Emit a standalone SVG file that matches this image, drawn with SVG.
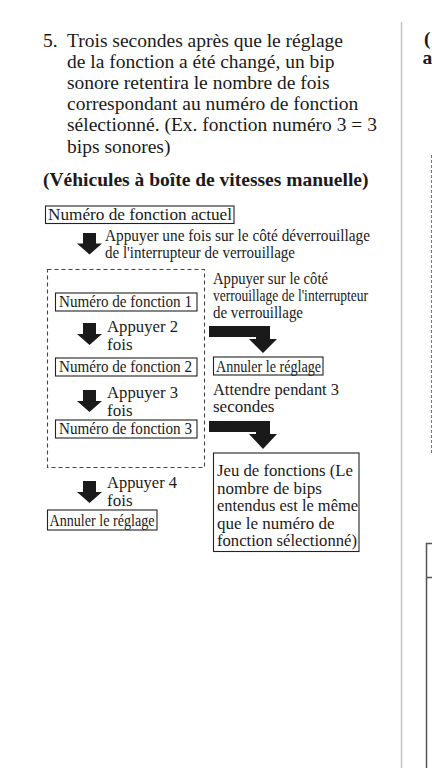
<svg xmlns="http://www.w3.org/2000/svg" width="432" height="768" viewBox="0 0 432 768">
<style>
  text { font-family: "Liberation Serif", "Times New Roman", serif; fill: #1a1a1a; }
  .body { font-size: 19.5px; }
  .head { font-size: 19.5px; font-weight: bold; }
  .lbl { font-size: 17px; }
  .sm { font-size: 16.5px; }
  .bx { font-size: 16px; }
  .box { fill: #fff; stroke: #222; stroke-width: 1.1; }
  .dash { fill: none; stroke: #444; stroke-width: 1.1; stroke-dasharray: 4 3; }
  .arr { fill: #1a1a1a; }
</style>
<rect width="432" height="768" fill="#fff"/>

<g id="intro">
  <text class="body" x="43" y="46.5">5.</text>
  <text class="body" x="67" y="46.5">Trois secondes après que le réglage</text>
  <text class="body" x="67" y="67.7">de la fonction a été changé, un bip</text>
  <text class="body" x="67" y="88.9">sonore retentira le nombre de fois</text>
  <text class="body" x="67" y="110.1">correspondant au numéro de fonction</text>
  <text class="body" x="67" y="131.3">sélectionné. (Ex. fonction numéro 3 = 3</text>
  <text class="body" x="67" y="152.5">bips sonores)</text>
  <text class="head" x="43" y="186">(Véhicules à boîte de vitesses manuelle)</text>
</g>

<g id="right-column">
  <line x1="401.5" y1="22" x2="401.5" y2="768" stroke="#c4c4c4" stroke-width="1.5"/>
  <text class="head" x="424" y="45">(</text>
  <text class="head" x="422.5" y="64">a</text>
  <line x1="431.5" y1="155" x2="431.5" y2="455" stroke="#777" stroke-width="1" stroke-dasharray="3 2"/>
  <path d="M432 543.5 H426.5 V768 M426.5 577.5 H432" fill="none" stroke="#555" stroke-width="1.5"/>
</g>

<g id="connectors">
  <polygon class="arr" points="83,233 96,233 96,243.5 102,243.5 89.5,254.5 77,243.5 83,243.5"/>
  <polygon class="arr" points="83,323 96,323 96,334 102,334 89.5,345 77,334 83,334"/>
  <polygon class="arr" points="83,390 96,390 96,401 102,401 89.5,412 77,401 83,401"/>
  <polygon class="arr" points="83,481 96,481 96,492 102,492 89.5,503 77,492 83,492"/>
  <polygon class="arr" points="209,326 270,326 270,339 277,339 263,353 249,339 256,339 256,337 209,337"/>
  <polygon class="arr" points="209,421 270,421 270,434 277,434 263,449 249,434 256,434 256,432 209,432"/>
</g>

<g id="node-actuel">
  <rect class="box" x="45.5" y="206" width="188.5" height="17.5"/>
  <text class="lbl" x="48" y="220" textLength="184" lengthAdjust="spacingAndGlyphs">Numéro de fonction actuel</text>
</g>

<g id="label-deverrouillage">
  <text class="lbl" x="105" y="241" textLength="265" lengthAdjust="spacingAndGlyphs">Appuyer une fois sur le côté déverrouillage</text>
  <text class="lbl" x="105" y="258" textLength="190" lengthAdjust="spacingAndGlyphs">de l'interrupteur de verrouillage</text>
</g>

<g id="group-fonctions">
  <rect class="dash" x="47.5" y="269.5" width="157" height="198"/>
</g>

<g id="node-fonction-1">
  <rect class="box" x="55.5" y="293" width="141.5" height="18"/>
  <text class="bx" x="59" y="307" textLength="133" lengthAdjust="spacingAndGlyphs">Numéro de fonction 1</text>
</g>

<g id="label-2-fois">
  <text class="lbl" x="107" y="332" textLength="71" lengthAdjust="spacingAndGlyphs">Appuyer 2</text>
  <text class="lbl" x="107" y="350">fois</text>
</g>

<g id="node-fonction-2">
  <rect class="box" x="55.5" y="358" width="141.5" height="18"/>
  <text class="bx" x="59" y="372" textLength="133" lengthAdjust="spacingAndGlyphs">Numéro de fonction 2</text>
</g>

<g id="label-3-fois">
  <text class="lbl" x="107" y="398" textLength="71" lengthAdjust="spacingAndGlyphs">Appuyer 3</text>
  <text class="lbl" x="107" y="416">fois</text>
</g>

<g id="node-fonction-3">
  <rect class="box" x="55.5" y="420" width="141.5" height="18"/>
  <text class="bx" x="59" y="434" textLength="133" lengthAdjust="spacingAndGlyphs">Numéro de fonction 3</text>
</g>

<g id="label-4-fois">
  <text class="lbl" x="107" y="488" textLength="70" lengthAdjust="spacingAndGlyphs">Appuyer 4</text>
  <text class="lbl" x="107" y="506">fois</text>
</g>

<g id="node-annuler-bas">
  <rect class="box" x="47.5" y="510" width="109.5" height="20"/>
  <text class="sm" x="49.5" y="526" textLength="105" lengthAdjust="spacingAndGlyphs">Annuler le réglage</text>
</g>

<g id="label-verrouillage">
  <text class="sm" x="213" y="284" textLength="115" lengthAdjust="spacingAndGlyphs">Appuyer sur le côté</text>
  <text class="sm" x="213" y="301" textLength="155" lengthAdjust="spacingAndGlyphs">verrouillage de l'interrupteur</text>
  <text class="sm" x="213" y="318" textLength="90" lengthAdjust="spacingAndGlyphs">de verrouillage</text>
</g>

<g id="node-annuler-droite">
  <rect class="box" x="213.5" y="357" width="109.5" height="18"/>
  <text class="bx" x="216" y="371.5" textLength="105" lengthAdjust="spacingAndGlyphs">Annuler le réglage</text>
</g>

<g id="label-attendre">
  <text class="lbl" x="213" y="395" textLength="126" lengthAdjust="spacingAndGlyphs">Attendre pendant 3</text>
  <text class="lbl" x="213" y="412">secondes</text>
</g>

<g id="node-jeu">
  <rect class="box" x="213.5" y="453" width="145.5" height="98.5"/>
  <text class="lbl" x="217" y="476" textLength="136" lengthAdjust="spacingAndGlyphs">Jeu de fonctions (Le</text>
  <text class="lbl" x="217" y="493.5">nombre de bips</text>
  <text class="lbl" x="217" y="511" textLength="141" lengthAdjust="spacingAndGlyphs">entendus est le même</text>
  <text class="lbl" x="217" y="528.5">que le numéro de</text>
  <text class="lbl" x="217" y="546" textLength="140" lengthAdjust="spacingAndGlyphs">fonction sélectionné)</text>
</g>
</svg>
